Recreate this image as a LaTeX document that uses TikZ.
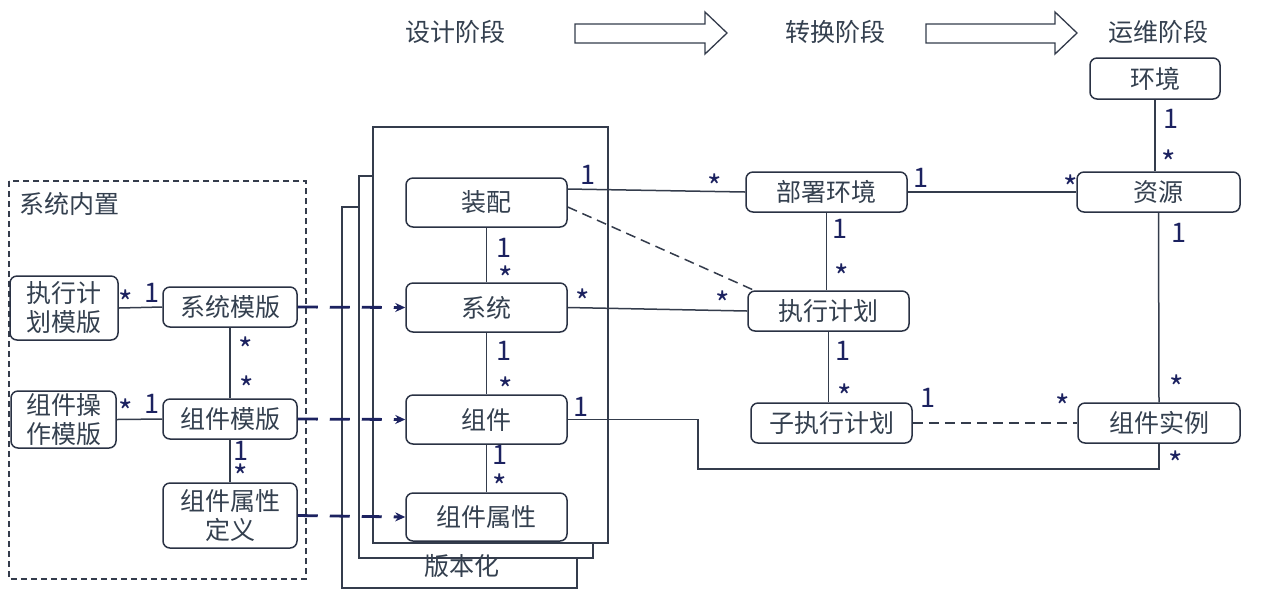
\documentclass[tikz,border=0pt]{standalone}
\usepackage{fontspec}
\setmainfont{Noto Sans CJK SC}
\usetikzlibrary{calc,arrows.meta}
\definecolor{txt}{HTML}{34404F}
\definecolor{bord}{HTML}{2A3244}
\definecolor{lnc}{HTML}{343C4C}
\definecolor{navy}{HTML}{1C2260}
\begin{document}
\begin{tikzpicture}[x=0.5pt,y=-0.5pt,
 box/.style={draw=bord, line width=0.75pt, rounded corners=3.5pt, inner sep=0pt, text=txt, font=\fontsize{12.5}{14.5}\selectfont, align=center},
 lab/.style={text=navy, font=\fontsize{13.5}{15}\selectfont, inner sep=0pt},
 star/.style={text=navy, font=\fontsize{15.5}{16}\selectfont, inner sep=0pt},
 ttl/.style={text=txt, font=\fontsize{12.5}{14.5}\selectfont, inner sep=0pt},
 conn/.style={draw=lnc, line width=0.75pt},
 dconn/.style={conn, dash pattern=on 5pt off 3pt},
 darrow/.style={draw=navy, line width=1.4pt, dash pattern=on 10pt off 6pt, -{Stealth[length=5pt,width=4.5pt]}},
 ver/.style={draw=lnc, line width=0.65pt, fill=white},
 blockarrow/.style={draw=lnc, line width=0.65pt, fill=white},
]
\useasboundingbox (0,0) rectangle (1280,602);
\fill[white] (0,0) rectangle (1280,602);

% stage titles and block arrows
\node[ttl] (t1) at (455,32) {设计阶段};
\node[ttl] (t2) at (835,32) {转换阶段};
\node[ttl] (t3) at (1158,32) {运维阶段};
\draw[blockarrow] (575,24) -- (705,24) -- (705,12) -- (727,33) -- (705,54) -- (705,43) -- (575,43) -- cycle;
\draw[blockarrow] (926,24) -- (1055,24) -- (1055,12) -- (1077,33) -- (1055,54) -- (1055,43) -- (926,43) -- cycle;

% version stack
\draw[ver] (342,207) rectangle (577,588);
\draw[ver] (359,176) rectangle (593,558);
\draw[ver] (373,127) rectangle (608,543);
\node[ttl] (bbh) at (462,566) {版本化};

% built-in container
\draw[lnc, line width=0.6pt, dash pattern=on 3pt off 2pt] (9,181) rectangle (306,579);
\node[ttl, anchor=west] (xtnz) at (19,204) {系统内置};

% boxes
\node[box, minimum width=65pt, minimum height=20.5pt] (hj) at (1155,78.5) {环境};
\node[box, minimum width=81.5pt, minimum height=20pt] (zy) at (1158.5,192) {资源};
\node[box, minimum width=80.5pt, minimum height=20pt] (bs) at (826.5,192) {部署环境};
\node[box, minimum width=80.5pt, minimum height=24.5pt] (zp) at (486.5,202.5) {装配};
\node[box, minimum width=80.5pt, minimum height=24.5pt] (xt) at (486.5,307.5) {系统};
\node[box, minimum width=80.5pt, minimum height=24.5pt] (zj) at (486.5,419.5) {组件};
\node[box, minimum width=80.5pt, minimum height=24pt] (zs) at (486.5,517) {组件属性};
\node[box, minimum width=80.5pt, minimum height=20pt] (zx) at (828.5,311) {执行计划};
\node[box, minimum width=80.5pt, minimum height=20pt] (zz) at (831.5,423) {子执行计划};
\node[box, minimum width=81pt, minimum height=20pt] (sl) at (1159,423) {组件实例};
\node[box, minimum width=54pt, minimum height=32pt] (zm) at (64,308) {执行计\\划模版};
\node[box, minimum width=67pt, minimum height=20pt] (xm) at (230,307) {系统模版};
\node[box, minimum width=52.5pt, minimum height=28.5pt] (cm) at (63.5,419.5) {组件操\\作模版};
\node[box, minimum width=67pt, minimum height=20pt] (gm) at (230,419) {组件模版};
\node[box, minimum width=67pt, minimum height=32.5pt] (gd) at (230,515.5) {组件属性\\定义};

% connectors
\draw[conn] ($(zp.east)+(0,-13.5)$) -- (bs.west);
\draw[dconn] ($(zp.east)+(0,4.5)$) -- ($(zx.north west)+(9,1)$);
\draw[conn] (xt.east) -- (zx.west);
\draw[conn] (bs.south) -- (bs.south |- zx.north);
\draw[conn] (zx.south) -- (zx.south |- zz.north);
\draw[dconn] (zz.east) -- (sl.west);
\draw[conn] (zj.east) -- ++(130,0) |- ($(sl.south)+(0,25)$) -- (sl.south);
\draw[conn] (bs.east) -- (zy.west);
\draw[conn] (hj.south) -- (hj.south |- zy.north);
\draw[conn] (zy.south) -- (sl.north);
\draw[conn] (zp.south) -- (xt.north);
\draw[conn] (xt.south) -- (zj.north);
\draw[conn] (zj.south) -- (zs.north);
\draw[conn] (zm.east) -- (xm.west);
\draw[conn] (cm.east) -- (gm.west);
\draw[conn] (xm.south) -- (gm.north);
\draw[conn] (gm.south) -- (gd.north);
\draw[darrow] (xm.east) -- (xt.west);
\draw[darrow] (gm.east) -- (zj.west);
\draw[darrow] (gd.east) -- (zs.west);

% multiplicities
\node[lab] (m1) at (588,175) {1};
\node[star] (m2) at (715,186) {*};
\node[star] (m3) at (583,301) {*};
\node[star] (m4) at (723,303) {*};
\node[lab] (m5) at (840,229) {1};
\node[star] (m6) at (842,276) {*};
\node[lab] (m7) at (843,351) {1};
\node[star] (m8) at (845,396) {*};
\node[lab] (m9) at (928,398) {1};
\node[star] (m10) at (1063,406) {*};
\node[lab] (m11) at (581,407) {1};
\node[star] (m12) at (1176,463) {*};
\node[lab] (m13) at (921,178) {1};
\node[star] (m14) at (1071,187) {*};
\node[lab] (m15) at (1171,119) {1};
\node[star] (m16) at (1169,162) {*};
\node[lab] (m17) at (1179,233) {1};
\node[star] (m18) at (1177,387) {*};
\node[lab] (m19) at (504,248) {1};
\node[star] (m20) at (506,278) {*};
\node[lab] (m21) at (504,351) {1};
\node[star] (m22) at (506,389) {*};
\node[lab] (m23) at (500,455) {1};
\node[star] (m24) at (500,486) {*};
\node[star] (m25) at (126,302) {*};
\node[lab] (m26) at (152,293) {1};
\node[star] (m27) at (126,411) {*};
\node[lab] (m28) at (152,404) {1};
\node[star] (m29) at (246,349) {*};
\node[star] (m30) at (247,388) {*};
\node[lab] (m31) at (241,451) {1};
\node[star] (m32) at (241,476) {*};
\end{tikzpicture}
\end{document}
